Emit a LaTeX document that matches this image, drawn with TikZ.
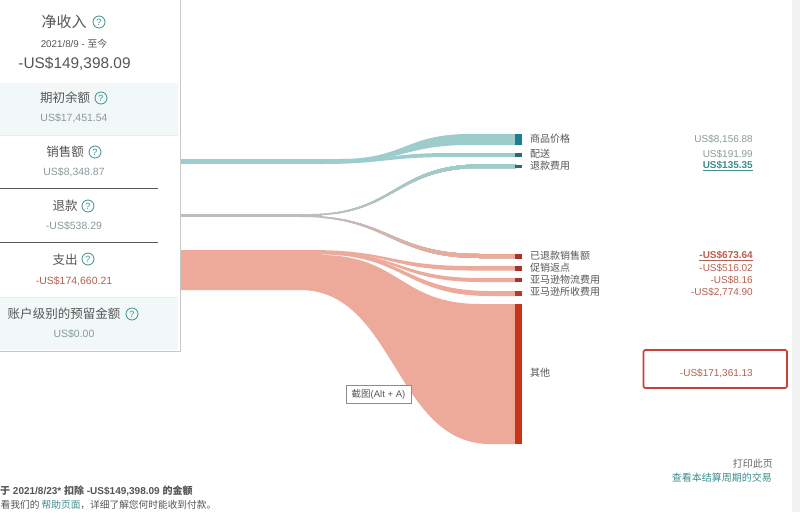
\documentclass[tikz,border=0pt]{standalone}
\usepackage{fontspec}
\setmainfont{Liberation Sans}
\newfontfamily\cjk{Noto Sans CJK SC}
\newcommand{\fs}[1]{\fontsize{#1}{#1}\selectfont}
\definecolor{tflow}{HTML}{9CCDCC}
\definecolor{rflow}{HTML}{EDA99A}
\definecolor{gflow}{HTML}{BDBDBD}
\definecolor{txt}{HTML}{555555}
\definecolor{mut}{HTML}{8A9A9C}
\definecolor{redt}{HTML}{B5604F}
\definecolor{tealt}{HTML}{3E8E8E}
\definecolor{rbox}{HTML}{C9403A}
\definecolor{bartA}{HTML}{1B7F8F}
\definecolor{bartB}{HTML}{2F6A70}
\definecolor{barrA}{HTML}{A8332B}
\definecolor{barrB}{HTML}{B83A22}
\definecolor{barrC}{HTML}{C8341A}
\definecolor{panelb}{HTML}{C8C8C8}
\definecolor{tint}{HTML}{F2F8F8}
\newcommand{\flow}[7]{\fill[#1] (#2,#3) .. controls ({(#2+#5)/2},#3) and ({(#2+#5)/2},#6) .. (#5,#6) -- (516,#6) -- (516,#7) -- (#5,#7) .. controls ({(#2+#5)/2},#7) and ({(#2+#5)/2},#4) .. (#2,#4) -- cycle;}
% a flow whose colour passes from grey to #1 in strips
\newcommand{\gradflow}[7]{%
  \foreach \i in {0,...,10}{%
    \pgfmathsetmacro{\xa}{320+\i*13}%
    \pgfmathsetmacro{\pc}{\i*10}%
    \begin{scope}
      \clip (\xa,0) rectangle (520,512);
      \flow{#1!\pc!gflow}{#2}{#3}{#4}{#5}{#6}{#7}
    \end{scope}}}
\tikzset{
  x=1pt,y=-1pt,
  lbl/.style={inner sep=0pt,text=txt,font=\cjk\fs{10},anchor=west},
  val/.style={inner sep=0pt,text=mut,font=\fs{10},anchor=east},
  title/.style={inner sep=0pt,text=txt,font=\cjk\fs{12.5}},
  amt/.style={inner sep=0pt,text=mut,font=\fs{10.5}},
  qmark/.style={circle,draw=tealt,line width=0.8pt,minimum size=12pt,inner sep=0pt,text=tealt,font=\fs{9}},
}
\begin{document}
\begin{tikzpicture}
\useasboundingbox (0,0) rectangle (800,512);
\clip (0,0) rectangle (800,512);
\fill[white] (0,0) rectangle (800,512);
\fill[black!5] (792,0) rectangle (800,512);
% trunks
\fill[tflow] (178,159) rectangle (342,161.5);
\fill[tflow] (178,161.5) rectangle (322,164);
\fill[gflow] (178,214) rectangle (322,217);
\fill[rflow] (178,250) rectangle (322,290);
% flows
\flow{tflow}{340}{159}{161.5}{470}{134}{145}
\flow{tflow}{320}{161.5}{164}{450}{153}{157}
\flow{gflow}{310}{214}{215.5}{480}{164.5}{168}
\flow{gflow}{300}{215.5}{217}{480}{254}{258}
\gradflow{tflow}{310}{214}{215.5}{480}{164.5}{168}
\gradflow{rflow}{300}{215.5}{217}{480}{254}{258}
\flow{rflow}{310}{250}{251.4}{470}{266}{270.5}
\flow{rflow}{315}{251}{252.4}{480}{278}{282}
\flow{rflow}{320}{252}{254.5}{490}{291}{296}
\fill[rflow] (320,255) .. controls (400,255) and (400,304) .. (480,304) -- (516,304) -- (516,444) -- (490,444) .. controls (395,444) and (395,290) .. (300,290) -- (178,290) -- (178,255) -- cycle;
% bars
\fill[bartA] (515,134) rectangle (522,145);
\fill[bartB] (515,153) rectangle (522,157);
\fill[bartB] (515,164.5) rectangle (522,168);
\fill[barrA] (515,254) rectangle (522,259);
\fill[barrA] (515,266) rectangle (522,271);
\fill[barrA] (515,278) rectangle (522,282);
\fill[barrB] (515,290.5) rectangle (522,296);
\fill[barrC] (515,304) rectangle (522,444);
% panel
\fill[white] (-5,-5) rectangle (180,351);
\fill[tint] (-5,83) rectangle (178,135);
\fill[tint] (-5,297) rectangle (178,350);
\draw[black!8] (-5,135) -- (178,135);
\draw[black!8] (-5,297) -- (178,297);
\draw[black!65,line width=0.8pt] (-5,188.5) -- (158,188.5);
\draw[black!65,line width=0.8pt] (-5,242) -- (158,242);
\draw[panelb,line width=0.9pt] (180,-5) -- (180,351) -- (-5,351);
% panel text
\node[inner sep=0pt,text=txt,font=\cjk\fs{15}] (net) at (64,22) {净收入};
\node[qmark] (q1) at (99,22) {?};
\node[inner sep=0pt,text=txt,font=\fs{9.8}] (date) at (74,44) {2021/8/9 - {\cjk 至今}};
\node[inner sep=0pt,text=txt,font=\fs{15.4}] (netv) at (74.5,64) {-US\$149,398.09};
\node[title] (open) at (65,98) {期初余额};
\node[qmark] (q2) at (101,98) {?};
\node[amt] (openv) at (74,118) {US\$17,451.54};
\node[title] (sales) at (65,152) {销售额};
\node[qmark] (q3) at (95,152) {?};
\node[amt] (salesv) at (74,172) {US\$8,348.87};
\node[title] (refund) at (65,206) {退款};
\node[qmark] (q4) at (88,206) {?};
\node[amt] (refundv) at (74,226) {-US\$538.29};
\node[title] (pay) at (65,260) {支出};
\node[qmark] (q5) at (88,259) {?};
\node[amt,text=redt] (payv) at (74,281) {-US\$174,660.21};
\node[title] (acct) at (64,314) {账户级别的预留金额};
\node[qmark] (q6) at (132,314) {?};
\node[amt] (acctv) at (74,334) {US\$0.00};
% right labels
\node[lbl] (a1) at (530,139) {商品价格};
\node[lbl] (a2) at (530,154) {配送};
\node[lbl] (a3) at (530,166) {退款费用};
\node[lbl] (a4) at (530,256) {已退款销售额};
\node[lbl] (a5) at (530,268) {促销返点};
\node[lbl] (a6) at (530,280) {亚马逊物流费用};
\node[lbl] (a7) at (530,292) {亚马逊所收费用};
\node[lbl] (a8) at (530,373) {其他};
\node[val] (v1) at (753,139) {US\$8,156.88};
\node[val] (v2) at (753,154.5) {US\$191.99};
\node[val,text=tealt,font=\bfseries\fs{10}] (v3) at (753,166) {\underline{US\$135.35}};
\node[val,text=redt,font=\bfseries\fs{10}] (v4) at (753,256) {\underline{-US\$673.64}};
\node[val,text=redt] (v5) at (753,268) {-US\$516.02};
\node[val,text=redt] (v6) at (753,280) {-US\$8.16};
\node[val,text=redt] (v7) at (753,292) {-US\$2,774.90};
\node[val,text=redt] (v8) at (753,373) {-US\$171,361.13};
\draw[rbox,line width=1.6pt,rounded corners=1.5pt] (643.5,350) rectangle (787,388);
% screenshot tip
\node[draw=black!45,fill=white,inner sep=0pt,minimum width=65pt,minimum height=18pt,text=txt,font=\fs{9.5}] (tip) at (378.5,394) {{\cjk 截图}(Alt + A)};
% footer
\node[inner sep=0pt,anchor=west,text=txt,font=\bfseries\fs{10}] (f1) at (0,491) {{\cjk\bfseries 于} 2021/8/23* {\cjk\bfseries 扣除} -US\$149,398.09 {\cjk\bfseries 的金额}};
\node[inner sep=0pt,anchor=west,text=txt,font=\cjk\fs{9.7}] (f2) at (0.5,505) {看我们的 \textcolor{tealt}{帮助页面}，详细了解您何时能收到付款。};
\node[inner sep=0pt,anchor=east,text=black!60,font=\cjk\fs{10}] (p1) at (773,464) {打印此页};
\node[inner sep=0pt,anchor=east,text=tealt,font=\cjk\fs{10}] (p2) at (772,478) {查看本结算周期的交易};
\end{tikzpicture}
\end{document}
